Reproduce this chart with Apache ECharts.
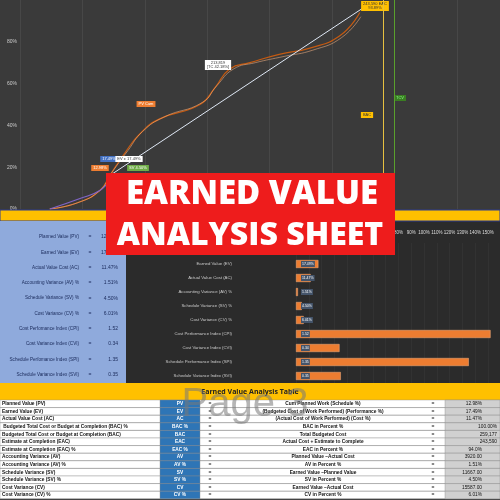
<!DOCTYPE html>
<html><head><meta charset="utf-8">
<script src="https://cdn.jsdelivr.net/npm/echarts@6/dist/echarts.min.js"></script>
<style>html,body{margin:0;padding:0;background:#3a3a3a}#c{width:500px;height:500px}</style>
</head><body><div id="c"></div>
<script>
// S-curve data (x: period index 0..100, y: % cumulative)
const pvCum = [[6.2,0],[12,3],[16.7,9],[18.7,16],[21.9,27],[25,36],[29,43],[37.5,50],[40.6,58],[43.7,67],[47.9,70],[54,74],[60.4,77],[66.7,83],[70.8,94]];
const evCum = [[6.2,0],[12,3],[16.7,9],[19,17],[22.5,28],[25.5,37],[30,44],[38,51],[41,59],[44.5,67],[49,70],[55,73],[61,76],[67,82],[71,92]];
const acCum = [[6.2,0],[12.5,5],[16.7,9],[18.7,14]];
const trend = [[18.7,16],[72,97]];
const barCats = ['Planned Value (PV)','Earned Value (EV)','Actual Value Cost (AC)','Accounting Variance (AV) %','Schedule Variance (SV) %','Cost Variance (CV) %','Cost Performance Index (CPI)','Cost Variance Index (CVI)','Schedule Performance Index (SPI)','Schedule Variance Index (SVI)'];
const barVals = [0.1298,0.1749,0.1147,0.0151,0.045,0.0601,1.52,0.34,1.35,0.35];
const leftLabels = ['Planned Value (PV)','Earned Value (EV)','Actual Value Cost (AC)','Accounting Variance (AV) %','Schedule Variance (SV) %','Cost Variance (CV) %','Cost Perfomance Index (CPI)','Cost Variance Index (CVI)','Schedule Perfomance Index (SPI)','Schedule Variance Index (SVI)'];
const leftVals = ['12.98%','17.49%','11.47%','1.51%','4.50%','6.01%','1.52','0.34','1.35','0.35'];
const tNames = ['Planned Value (PV)','Earned Value (EV)','Actual Value Cost (AC)',' Budgeted Total Cost or Budget at Completion (BAC) %','Budgeted Total Cost or Budget at Completion (BAC)','Estimate at Completion (EAC)','Estimate at Completion (EAC) %','Accounting Variance (AV)','Accounting Variance (AV) %','Schedule Variance (SV)','Schedule Variance (SV) %','Cost Variance (CV)','Cost Variance (CV) %'];
const tCodes = ['PV','EV','AC','BAC %','BAC','EAC','EAC %','AV','AV %','SV','SV %','CV','CV %'];
const tDesc = ['Cum Planned Work (Schedule %)','(Budgeted Cost of Work Performed) (Performance %)','(Actual Cost of Work Performed) (Cost %)','BAC in Percent %','Total Budgeted Cost','Actual Cost + Estimate to Complete','EAC in Percent %','Planned Value \u2013Actual Cost','AV in Percent %','Earned Value \u2013Planned Value','SV in Percent %','Earned Value \u2013Actual Cost','CV in Percent %'];
const tVals = ['12.98%','17.49%','11.47%','100.00%','259,177','243,590','94.0%','3920.00','1.51%','11667.00','4.50%','15587.00','6.01%'];

const ch = echarts.init(document.getElementById('c'));
const g = [];
g.push({type:'rect',shape:{x:0,y:210,width:500,height:11},style:{fill:'#ffc000',stroke:'#2f3c8f',lineWidth:1},z:1});
g.push({type:'rect',shape:{x:0,y:221,width:126,height:162},style:{fill:'#8faadc'},z:1});
g.push({type:'rect',shape:{x:126,y:221,width:374,height:162},style:{fill:'#2b2b2b'},z:0});
leftLabels.forEach((s,i)=>{const y=237+i*15.3;
 g.push({type:'text',x:79,y:y,style:{text:s,fill:'#1a2a5a',font:'4.6px "Liberation Sans"',textAlign:'right',textVerticalAlign:'middle'},z:3});
 g.push({type:'text',x:90,y:y,style:{text:'=',fill:'#1a2a5a',font:'5px "Liberation Sans"',textAlign:'center',textVerticalAlign:'middle'},z:3});
 g.push({type:'text',x:118,y:y,style:{text:leftVals[i],fill:'#1a2a5a',font:'5px "Liberation Sans"',textAlign:'right',textVerticalAlign:'middle'},z:3});
});
g.push({type:'rect',shape:{x:0,y:383,width:500,height:17},style:{fill:'#ffc000'},z:1});
g.push({type:'text',x:250,y:392,style:{text:'Earned Value Analysis Table',fill:'#222',font:'bold 7px "Open Sans"',textAlign:'center',textVerticalAlign:'middle'},z:5});
const rh=7.6;
tNames.forEach((s,i)=>{const y=400+i*rh, cy=y+rh/2;
 g.push({type:'rect',shape:{x:0,y:y,width:500,height:rh},style:{fill:'#fff',stroke:'#888',lineWidth:0.4},z:1});
 g.push({type:'rect',shape:{x:160,y:y,width:40,height:rh},style:{fill:'#2e75b6',stroke:'#888',lineWidth:0.4},z:2});
 g.push({type:'rect',shape:{x:445,y:y,width:55,height:rh},style:{fill:'#d0d0d0',stroke:'#888',lineWidth:0.4},z:2});
 g.push({type:'text',x:2,y:cy,style:{text:s,fill:'#111',font:'bold 4.8px "Liberation Sans"',textVerticalAlign:'middle'},z:3});
 g.push({type:'text',x:180,y:cy,style:{text:tCodes[i],fill:'#fff',font:'bold 4.8px "Liberation Sans"',textAlign:'center',textVerticalAlign:'middle'},z:3});
 g.push({type:'text',x:210,y:cy,style:{text:'=',fill:'#111',font:'5px "Liberation Sans"',textAlign:'center',textVerticalAlign:'middle'},z:3});
 g.push({type:'text',x:323,y:cy,style:{text:tDesc[i],fill:'#111',font:'bold 4.8px "Liberation Sans"',textAlign:'center',textVerticalAlign:'middle'},z:3});
 g.push({type:'text',x:433,y:cy,style:{text:'=',fill:'#111',font:'5px "Liberation Sans"',textAlign:'center',textVerticalAlign:'middle'},z:3});
 g.push({type:'text',x:i>=3&&i<=5?497:482,y:cy,style:{text:tVals[i],fill:'#111',font:'4.8px "Liberation Sans"',textAlign:'right',textVerticalAlign:'middle'},z:3});
});
g.push({type:'text',x:245,y:405,style:{text:'Page 3',fill:'rgba(120,120,120,0.55)',font:'40px "Liberation Sans"',textAlign:'center',textVerticalAlign:'middle'},z:6});
function box(x,y,t,fill,col){g.push({type:'text',x:x,y:y,style:{text:t,fill:col,font:'4px "Liberation Sans"',backgroundColor:fill,padding:[1,2],align:'center',verticalAlign:'middle',textAlign:'center',textVerticalAlign:'middle'},z:4});}
box(218,65,'213,819\n[TC 42.18%]','#fff','#333');
box(375,6,'243,590 EAC\n93.89%','#ffc000','#333');
box(146,104,'PV Cum','#ed7d31','#fff');
box(367,115,'BAC','#ffc000','#333');
box(400,98,'TCV','#3a7d22','#8f8');
box(100,168,'12.98%','#ed7d31','#fff');
box(109,159,'17.49%','#4472c4','#fff');
box(129,159,'EV ± 17.49%','#fff','#333');
box(138,168,'SV 4.50%','#70ad47','#fff');
g.push({type:'rect',shape:{x:106,y:173,width:289,height:82},style:{fill:'#ee1c1c'},z:20});
g.push({type:'text',x:252,y:195,style:{text:'EARNED VALUE',fill:'#fff',font:'800 33px "Open Sans"',textAlign:'center',textVerticalAlign:'middle'},z:21});
g.push({type:'text',x:250,y:236,style:{text:'ANALYSIS SHEET',fill:'#fff',font:'800 32px "Open Sans"',textAlign:'center',textVerticalAlign:'middle'},z:21});

ch.setOption({
 backgroundColor:'#3a3a3a', animation:false,
 grid:[{left:20,right:0,top:-13,height:222},{left:296,right:12,top:243,height:140}],
 xAxis:[{gridIndex:0,type:'value',min:0,max:100,interval:13,axisLabel:{show:false},axisLine:{show:false},axisTick:{show:false},splitLine:{lineStyle:{color:'#555',width:0.5}}},
  {gridIndex:1,type:'value',min:0,max:1.5,interval:0.1,position:'top',axisLabel:{color:'#ddd',fontSize:4.5,formatter:v=>Math.round(v*100)+'%'},axisLine:{show:false},axisTick:{show:false},splitLine:{lineStyle:{color:'#3a3a3a',width:0.5}}}],
 yAxis:[{gridIndex:0,type:'value',min:0,max:100,interval:20,axisLabel:{color:'#ccc',fontSize:5,margin:3,formatter:v=>v<100?v+'%':''},axisLine:{show:false},axisTick:{show:false},splitLine:{show:false}},
  {gridIndex:1,type:'category',inverse:true,data:barCats,axisLabel:{color:'#ccc',fontSize:4.3,margin:64},axisLine:{show:false},axisTick:{show:false}}],
 series:[
  {type:'line',xAxisIndex:0,yAxisIndex:0,data:pvCum,smooth:true,showSymbol:false,lineStyle:{color:'#c55a11',width:1.2}},
  {type:'line',xAxisIndex:0,yAxisIndex:0,data:evCum,smooth:true,showSymbol:false,lineStyle:{color:'#f4b183',width:0.8,opacity:0.7}},
  {type:'line',xAxisIndex:0,yAxisIndex:0,data:acCum,smooth:true,showSymbol:false,lineStyle:{color:'#8064c8',width:1.2}},
  {type:'line',xAxisIndex:0,yAxisIndex:0,data:trend,showSymbol:false,lineStyle:{color:'#dfe8f5',width:1},
   markLine:{symbol:'none',silent:true,label:{show:false},data:[{xAxis:75.6,lineStyle:{color:'#e6c040',type:'solid',width:1}},{xAxis:77.9,lineStyle:{color:'#5aa02c',type:'solid',width:1}}]}},
  {type:'bar',xAxisIndex:1,yAxisIndex:1,data:barVals,barWidth:8,clip:false,itemStyle:{color:'#ed7d31',borderColor:'#f4b183',borderWidth:0.5},
   label:{show:true,position:'insideLeft',fontSize:3.5,color:'#fff',backgroundColor:'#44546a',padding:[1,1],formatter:p=>p.value<1&&p.dataIndex<6?(p.value*100).toFixed(2)+'%':p.value.toFixed(2)}}
 ],
 graphic:g
});
</script></body></html>
